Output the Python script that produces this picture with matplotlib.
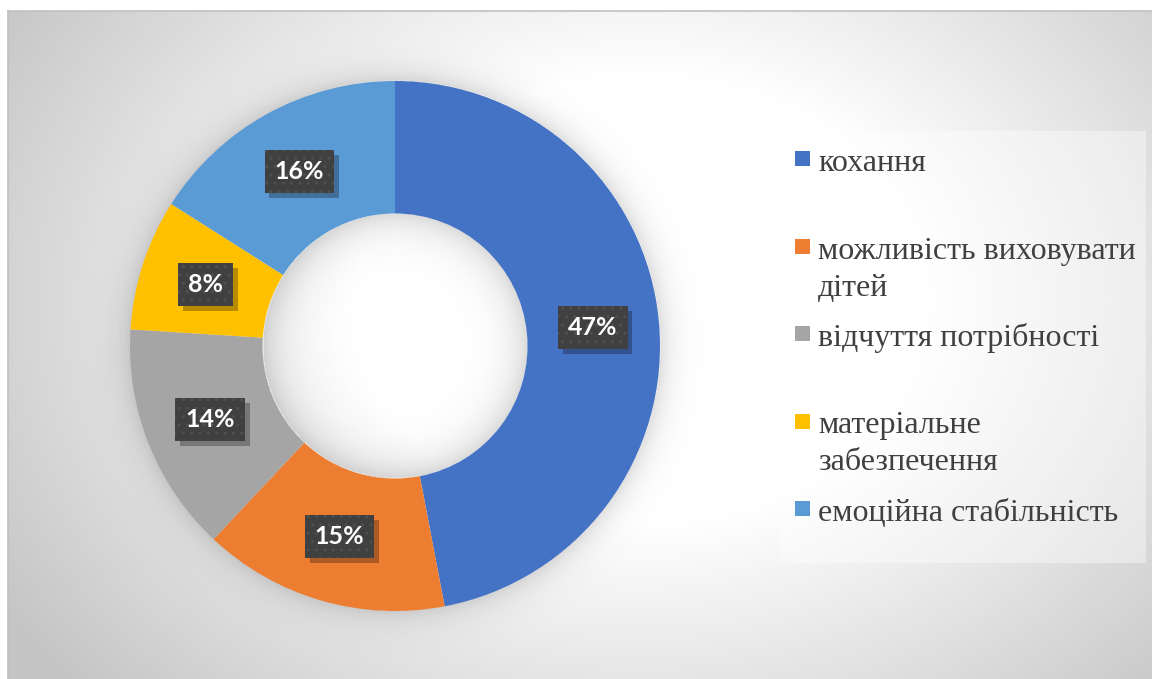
import numpy as np
import matplotlib
matplotlib.use("Agg")
import matplotlib.pyplot as plt
from matplotlib.patches import Rectangle
import matplotlib.patheffects as pe

categories = ["кохання", "можливість виховувати\nдітей", "відчуття потрібності",
              "матеріальне\nзабезпечення", "емоційна стабільність"]
values = [47, 15, 14, 8, 16]
colors = ["#4472C4", "#ED7D31", "#A5A5A5", "#FFC000", "#5B9BD5"]


class PlainShadow(pe.AbstractPathEffect):
    """Drop shadow of a patch, drawn without the patch's hatch."""

    def __init__(self, offset=(3.5, -3.5), alpha=0.28):
        super().__init__(offset)
        self._a = alpha

    def draw_path(self, renderer, gc, tpath, affine, rgbFace=None):
        gc0 = renderer.new_gc()
        gc0.copy_properties(gc)
        gc0.set_hatch(None)
        gc0.set_foreground("none")
        gc0.set_linewidth(0)
        gc0.set_alpha(self._a)
        renderer.draw_path(gc0, tpath, affine + self._offset_transform(renderer),
                           (0.0, 0.0, 0.0))
        gc0.restore()


W, H = 1152, 679
fig = plt.figure(figsize=(W / 100, H / 100), dpi=100)
fig.patch.set_facecolor("white")

# ---- background panel with radial gradient ----
bg = fig.add_axes([0, 0, 1, 1], zorder=0)
fx0, fy0 = 8, 11
xs = np.arange(fx0, W) + 0.5
ys = np.arange(fy0, H) + 0.5
X, Y = np.meshgrid(xs, ys)
n = np.hypot((X - 640) / 720, (Y - 300) / 560)
t = np.clip((n - 0.4) / 0.65, 0, 1)
v = 1 - 0.23 * t
bg.imshow(np.dstack([v, v, v]), extent=(fx0, W, H, fy0), interpolation="bilinear",
          aspect="auto", zorder=0)
bg.plot([fx0, fx0], [H, fy0], color="#c0c0c0", lw=1.2, zorder=1)
bg.plot([fx0, W], [fy0, fy0], color="#c0c0c0", lw=1.2, zorder=1)
bg.set_xlim(0, W)
bg.set_ylim(H, 0)
bg.axis("off")

# ---- legend (manual) ----
bg.add_patch(Rectangle((780, 131), 366, 432, facecolor="white", alpha=0.4, lw=0, zorder=2))
for i, (cat, col) in enumerate(zip(categories, colors)):
    yb = 171 + 87.5 * i
    bg.add_patch(Rectangle((795, yb - 20), 15, 15, facecolor=col, lw=0, zorder=3))
    for j, line in enumerate(cat.split("\n")):
        bg.text(818, yb + 37 * j, line, ha="left", va="baseline", fontsize=23,
                family="Liberation Serif", color="#404040", zorder=3)

# ---- donut ----
R, cx, cy = 265, 395, 346
ax = fig.add_axes([(cx - R) / W, (H - cy - R) / H, 2 * R / W, 2 * R / H], zorder=1)
ax.patch.set_alpha(0)

# soft glow / shadow around the ring
g = np.linspace(-1.3, 1.3, 700)
GX, GY = np.meshgrid(g, g)
rr = np.hypot(GX, GY)
alpha = np.zeros_like(rr)
out = rr > 1
alpha[out] = 0.13 * np.exp(-(rr[out] - 1) / 0.05)
inn = rr < 0.5
alpha[inn] = 0.15 * np.exp(-(0.5 - rr[inn]) / 0.07)
rgba = np.zeros(rr.shape + (4,))
rgba[..., 3] = alpha
ax.imshow(rgba, extent=(-1.3, 1.3, -1.3, 1.3), zorder=0, clip_on=False,
          interpolation="bilinear")

wedges, texts, autotexts = ax.pie(
    values, colors=colors, startangle=90, counterclock=False, radius=1,
    wedgeprops=dict(width=0.5, linewidth=0), autopct="%1.0f%%", pctdistance=0.75,
    textprops=dict(color="white", fontsize=18, fontweight="bold", family="Lato"))
for w in wedges:
    w.set_zorder(1)
for at in autotexts:
    at.set_zorder(6)
    at.set_bbox(dict(boxstyle="square,pad=0.4", facecolor="#404040",
                     edgecolor="#4f4f4f", linewidth=0, hatch=".."))
    at.get_bbox_patch().set_path_effects([PlainShadow(), pe.Normal()])

ax.set_xlim(-1, 1)
ax.set_ylim(-1, 1)
ax.set_aspect("equal")
ax.axis("off")

fig.savefig("out.png", dpi=100)
